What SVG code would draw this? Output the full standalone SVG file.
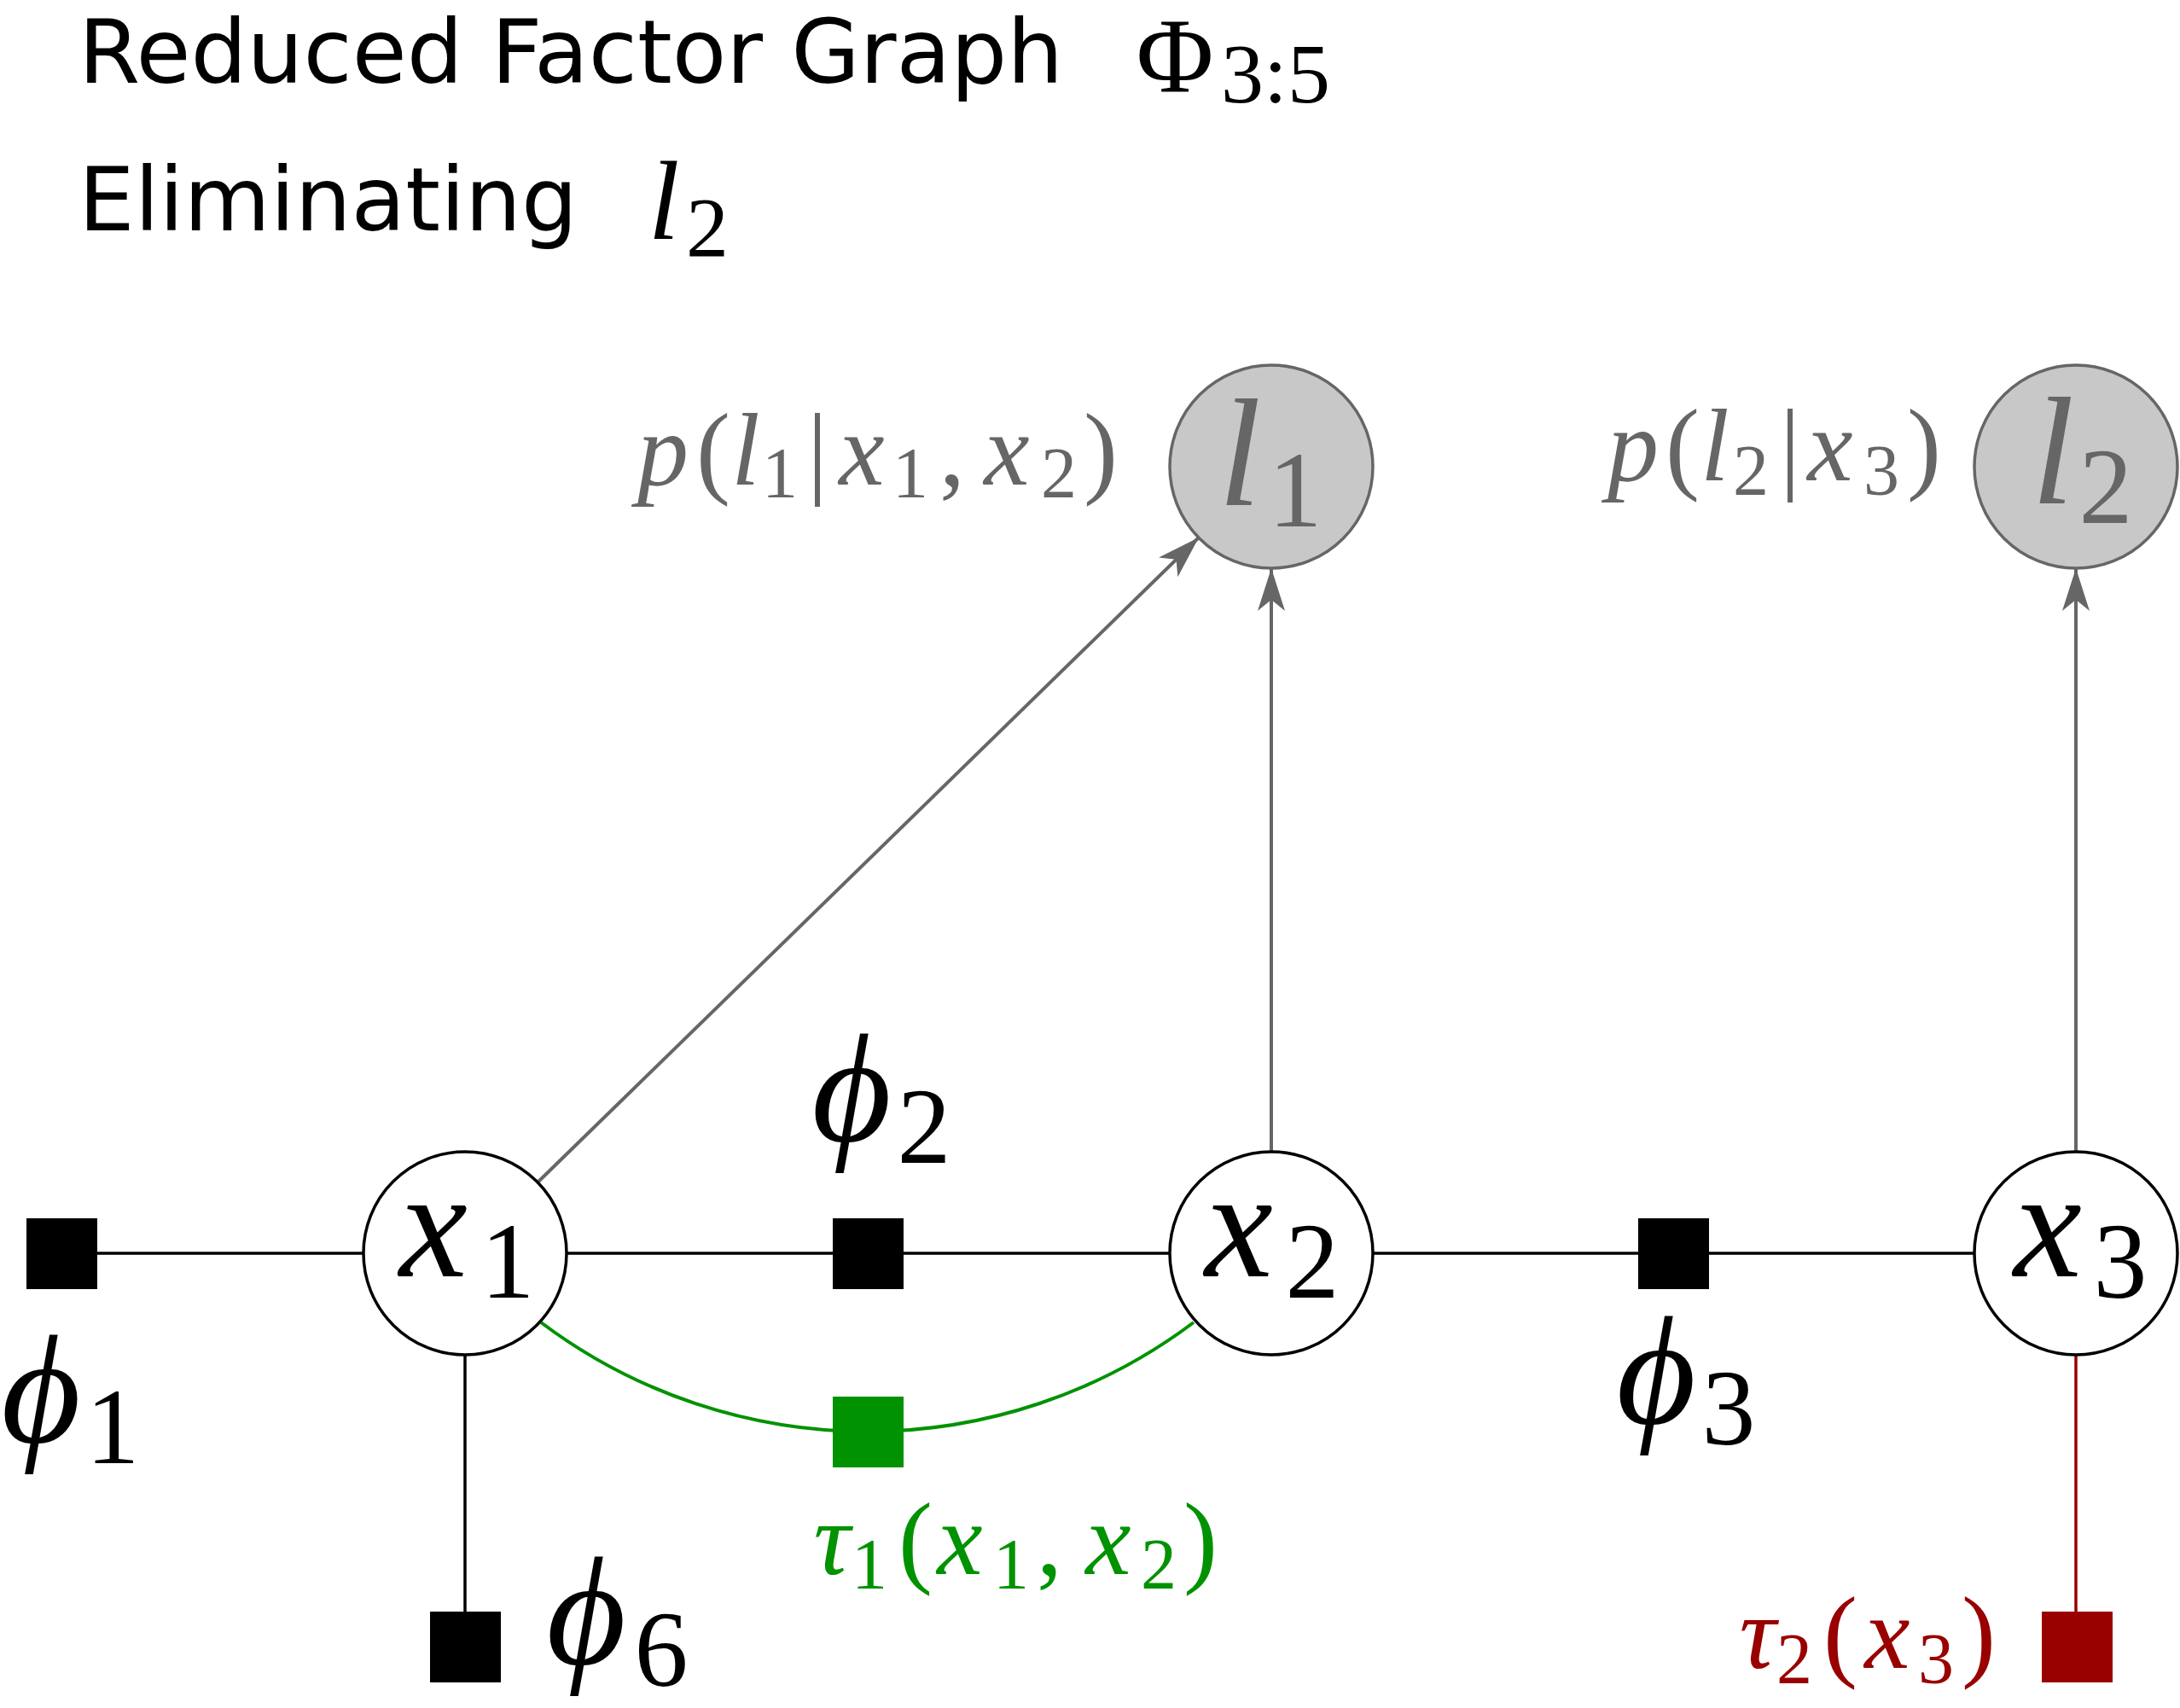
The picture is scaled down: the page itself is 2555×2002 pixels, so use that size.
<svg xmlns="http://www.w3.org/2000/svg" width="2555" height="2002" viewBox="0 0 2555 2002">
<style>
.title{font-family:"DejaVu Sans","Liberation Sans",sans-serif;font-size:104px;fill:#000}
.m{font-family:"Liberation Serif","DejaVu Serif",serif;text-anchor:middle}
.i{font-style:italic}
.big{font-size:180px}
.bsub{font-size:126px}
.sm{font-size:120px}
.ssub{font-size:84px}
.tm{font-size:124px}
.tl{font-size:132px}
.tsub{font-size:100px}
.var{fill:#fff;stroke:#000;stroke-width:3.5}
.lm{fill:#c8c8c8;stroke:#666;stroke-width:3.5}
.fac{fill:#000}
.edge{fill:none;stroke:#000;stroke-width:3.5}
.arr{fill:none;stroke:#666;stroke-width:4;marker-end:url(#ah)}
.green{fill:none;stroke:#009200;stroke-width:4}
.red{fill:none;stroke:#990000;stroke-width:3.5}
.gray{fill:#666}
</style>
<defs>
<marker id="ah" markerUnits="userSpaceOnUse" viewBox="-55 -20 60 40" markerWidth="60" markerHeight="40" refX="0" refY="0" orient="auto">
<path d="M0,0 L-50,-16 L-37,0 L-50,16 Z" fill="#666"/>
</marker>
</defs>
<g id="title">
<text class="title" x="92" y="97">Reduced Factor Graph</text>
<text class="m tm" x="1377" y="108">Φ</text>
<text class="m tsub" x="1495" y="120">3:5</text>
<text class="title" x="92" y="270">Eliminating</text>
<text class="m"><tspan class="i tl" x="778" y="280">l</tspan><tspan class="tsub" x="829" y="300">2</tspan></text>
</g>
<g id="connectors">
<line class="edge" x1="72" y1="1469" x2="426" y2="1469"/>
<line class="edge" x1="664" y1="1469" x2="1371" y2="1469"/>
<line class="edge" x1="1609" y1="1469" x2="2314" y2="1469"/>
<line class="edge" x1="545" y1="1588" x2="545" y2="1930"/>
<path class="green" d="M634,1550 A637,637 0 0,0 1017,1678 A637,637 0 0,0 1399,1550"/>
<line class="red" x1="2433" y1="1588" x2="2433" y2="1930"/>
<line class="arr" x1="630" y1="1386" x2="1405" y2="630"/>
<line class="arr" x1="1490" y1="1350" x2="1490" y2="666"/>
<line class="arr" x1="2433" y1="1350" x2="2433" y2="666"/>
</g>
<g id="l1">
<circle class="lm" cx="1490" cy="547" r="119"/>
<text class="m gray"><tspan class="i big" x="1453" y="592">l</tspan><tspan class="bsub" x="1518" y="617">1</tspan></text>
<text class="m gray"><tspan class="i sm" x="777" y="568">p</tspan><tspan class="sm" x="836" y="568">(</tspan><tspan class="i sm" x="874" y="568">l</tspan><tspan class="ssub" x="914" y="583">1</tspan><tspan class="sm" x="958" y="568">|</tspan><tspan class="i sm" x="1010" y="568">x</tspan><tspan class="ssub" x="1067" y="583">1</tspan><tspan class="sm" x="1116" y="568">,</tspan><tspan class="i sm" x="1180" y="568">x</tspan><tspan class="ssub" x="1241" y="583">2</tspan><tspan class="sm" x="1290" y="568">)</tspan></text>
</g>
<g id="l2">
<circle class="lm" cx="2433" cy="547" r="119"/>
<text class="m gray"><tspan class="i big" x="2406" y="590">l</tspan><tspan class="bsub" x="2468" y="613">2</tspan></text>
<text class="m gray"><tspan class="i sm" x="1914" y="563">p</tspan><tspan class="sm" x="1972" y="563">(</tspan><tspan class="i sm" x="2010" y="563">l</tspan><tspan class="ssub" x="2052" y="580">2</tspan><tspan class="sm" x="2098" y="563">|</tspan><tspan class="i sm" x="2145" y="563">x</tspan><tspan class="ssub" x="2205" y="580">3</tspan><tspan class="sm" x="2255" y="563">)</tspan></text>
</g>
<g id="x1">
<circle class="var" cx="545" cy="1469" r="119"/>
<text class="m"><tspan class="i big" x="508" y="1496">x</tspan><tspan class="bsub" x="595" y="1521">1</tspan></text>
</g>
<g id="x2">
<circle class="var" cx="1490" cy="1469" r="119"/>
<text class="m"><tspan class="i big" x="1452" y="1496">x</tspan><tspan class="bsub" x="1538" y="1521">2</tspan></text>
</g>
<g id="x3">
<circle class="var" cx="2433" cy="1469" r="119"/>
<text class="m"><tspan class="i big" x="2400" y="1496">x</tspan><tspan class="bsub" x="2485" y="1521">3</tspan></text>
</g>
<g id="phi1">
<rect class="fac" x="31" y="1428" width="83" height="83"/>
<text class="m"><tspan class="i big" x="48" y="1690">ϕ</tspan><tspan class="bsub" x="132" y="1715">1</tspan></text>
</g>
<g id="phi2">
<rect class="fac" x="976" y="1428" width="83" height="83"/>
<text class="m"><tspan class="i big" x="998" y="1337">ϕ</tspan><tspan class="bsub" x="1083" y="1363">2</tspan></text>
</g>
<g id="phi3">
<rect class="fac" x="1920" y="1428" width="83" height="83"/>
<text class="m"><tspan class="i big" x="1941" y="1668">ϕ</tspan><tspan class="bsub" x="2026" y="1693">3</tspan></text>
</g>
<g id="phi6">
<rect class="fac" x="504" y="1889" width="83" height="83"/>
<text class="m"><tspan class="i big" x="687" y="1950">ϕ</tspan><tspan class="bsub" x="775" y="1976">6</tspan></text>
</g>
<g id="tau1">
<rect x="976" y="1637" width="83" height="83" fill="#009200"/>
<text class="m" fill="#009200"><tspan class="i sm" x="975" y="1845">τ</tspan><tspan class="ssub" x="1019" y="1862">1</tspan><tspan class="sm" x="1073" y="1845">(</tspan><tspan class="i sm" x="1125" y="1845">x</tspan><tspan class="ssub" x="1185" y="1862">1</tspan><tspan class="sm" x="1230" y="1845">,</tspan><tspan class="i sm" x="1299" y="1845">x</tspan><tspan class="ssub" x="1358" y="1862">2</tspan><tspan class="sm" x="1407" y="1845">)</tspan></text>
</g>
<g id="tau2">
<rect x="2393" y="1889" width="83" height="83" fill="#990000"/>
<text class="m" fill="#990000"><tspan class="i sm" x="2060" y="1955">τ</tspan><tspan class="ssub" x="2103" y="1973">2</tspan><tspan class="sm" x="2157" y="1955">(</tspan><tspan class="i sm" x="2212" y="1955">x</tspan><tspan class="ssub" x="2269" y="1973">3</tspan><tspan class="sm" x="2319" y="1955">)</tspan></text>
</g>
</svg>
